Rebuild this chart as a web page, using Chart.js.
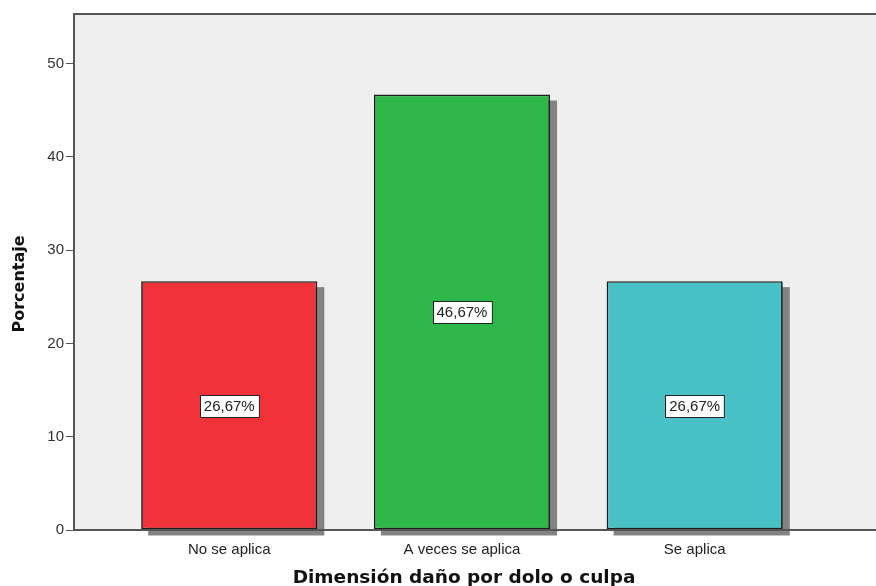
<!DOCTYPE html>
<html>
<head>
<meta charset="utf-8">
<script src="https://cdn.jsdelivr.net/npm/chart.js@4/dist/chart.umd.min.js"></script>
<style>
  html, body { margin: 0; padding: 0; background: #fff; }
  #wrap { width: 876px; height: 586px; }
</style>
</head>
<body>
<div id="wrap"><canvas id="c"></canvas></div>
<script>
// Gráfico de barras: Dimensión daño por dolo o culpa (porcentaje)

const categorias = ["No se aplica", "A veces se aplica", "Se aplica"];
const porcentajes = [26.67, 46.67, 26.67];
const coloresBarra = ["#f0333a", "#2eb84a", "#48c2c6"];
const yTicks = [0, 10, 20, 30, 40, 50];
const tituloX = "Dimensión daño por dolo o culpa";
const tituloY = "Porcentaje";

const frameColor = "#555";

// fondo gris del área de trazado
const fondoPlot = {
  id: "fondoPlot",
  beforeDraw(chart) {
    const { ctx, chartArea: a } = chart;
    ctx.save();
    ctx.fillStyle = "#efefef";
    ctx.fillRect(a.left, a.top, a.right - a.left, a.bottom - a.top);
    ctx.restore();
  }
};

// sombra gris desplazada detrás de cada barra
const sombras = {
  id: "sombras",
  beforeDatasetsDraw(chart) {
    const { ctx } = chart;
    ctx.save();
    ctx.fillStyle = "#838383";
    chart.getDatasetMeta(0).data.forEach(b => {
      const w = b.width;
      ctx.fillRect(b.x - w / 2 + 7, b.y + 6, w, b.base - b.y);
    });
    ctx.restore();
  }
};

// marco: línea superior, eje izquierdo y eje inferior por encima de las sombras
const marco = {
  id: "marco",
  afterDatasetsDraw(chart) {
    const { ctx, chartArea: a } = chart;
    ctx.save();
    ctx.strokeStyle = frameColor;
    ctx.lineWidth = 2;
    ctx.beginPath();
    ctx.moveTo(a.right, a.top);
    ctx.lineTo(a.left, a.top);
    ctx.lineTo(a.left, a.bottom);
    ctx.lineTo(a.right, a.bottom);
    ctx.stroke();
    ctx.restore();
  }
};

// etiquetas de porcentaje en caja blanca al centro de cada barra
const etiquetas = {
  id: "etiquetas",
  afterDatasetsDraw(chart) {
    const { ctx } = chart;
    const y = chart.scales.y;
    ctx.save();
    ctx.font = "15px 'Liberation Sans', Arial, sans-serif";
    ctx.textAlign = "center";
    ctx.textBaseline = "middle";
    chart.getDatasetMeta(0).data.forEach((b, i) => {
      const v = porcentajes[i];
      const txt = v.toFixed(2).replace(".", ",") + "%";
      const cy = y.getPixelForValue(v / 2);
      const w = ctx.measureText(txt).width + 8;
      const h = 22;
      const x0 = Math.round(b.x - w / 2) + 0.5;
      const y0 = Math.round(cy - h / 2) + 0.5;
      ctx.fillStyle = "#fff";
      ctx.fillRect(x0, y0, w, h);
      ctx.strokeStyle = "#222";
      ctx.lineWidth = 1;
      ctx.strokeRect(x0, y0, w, h);
      ctx.fillStyle = "#222";
      ctx.fillText(txt, b.x, cy + 1);
    });
    ctx.restore();
  }
};

// títulos de los ejes (posición como en el original SPSS)
const titulos = {
  id: "titulos",
  afterDraw(chart) {
    const { ctx, chartArea: a } = chart;
    ctx.save();
    ctx.fillStyle = "#111";
    ctx.textAlign = "center";
    ctx.textBaseline = "middle";
    ctx.font = "bold 18.5px 'DejaVu Sans', sans-serif";
    ctx.fillText(tituloX, (a.left + a.right) / 2 - 11, 578);
    ctx.translate(20, (a.top + a.bottom) / 2 + 12);
    ctx.rotate(-Math.PI / 2);
    ctx.font = "bold 16px 'DejaVu Sans', sans-serif";
    ctx.fillText(tituloY, 0, 0);
    ctx.restore();
  }
};

new Chart(document.getElementById("c"), {
  type: "bar",
  data: {
    datasets: [{
      data: porcentajes.map((v, i) => ({ x: i + 1, y: v })),
      backgroundColor: coloresBarra,
      borderColor: "#1e1e1e",
      borderWidth: 1.7,
      borderSkipped: false,
      barPercentage: 0.87,
      categoryPercentage: 0.87
    }]
  },
  options: {
    responsive: true,
    maintainAspectRatio: false,
    animation: false,
    layout: { padding: { top: 14, right: 0, left: 0, bottom: 0 } },
    plugins: {
      legend: { display: false },
      tooltip: { enabled: false }
    },
    scales: {
      x: {
        type: "linear",
        offset: false,
        min: 0.333,
        max: 3.779,
        afterBuildTicks: (s) => { s.ticks = categorias.map((c, i) => ({ value: i + 1 })); },
        afterFit: (s) => { s.height = 56; },
        border: { display: false },
        grid: { offset: false, drawOnChartArea: false, tickLength: 4, color: "#555" },
        ticks: {
          color: "#222",
          padding: 7,
          autoSkip: false,
          maxRotation: 0,
          font: { family: "'Liberation Sans', Arial, sans-serif", size: 15 },
          callback: (v) => categorias[v - 1] ?? ""
        }
      },
      y: {
        min: 0,
        max: 55.3,
        afterBuildTicks: (s) => { s.ticks = yTicks.map(v => ({ value: v })); },
        afterFit: (s) => { s.width = 74; },
        border: { display: false },
        grid: { drawOnChartArea: false, tickLength: 8, color: "#555" },
        ticks: {
          color: "#333",
          padding: 2,
          font: { family: "'Liberation Sans', Arial, sans-serif", size: 15 }
        }
      }
    }
  },
  plugins: [fondoPlot, sombras, marco, etiquetas, titulos]
});
</script>
</body>
</html>
